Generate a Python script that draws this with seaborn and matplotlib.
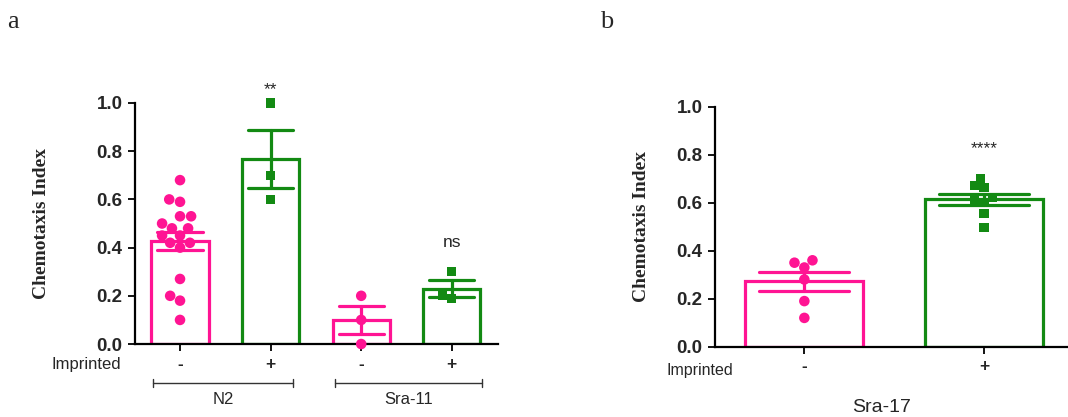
import numpy as np
import pandas as pd
import matplotlib
matplotlib.use("Agg")
import matplotlib.pyplot as plt
import matplotlib.transforms as mtransforms
import seaborn as sns

sns.set_theme(style="white")
plt.rcParams['font.family'] = ['Liberation Sans', 'DejaVu Sans']

PINK = '#ff1493'
GREEN = '#138a13'

# panel a values (chemotaxis index of each assay)
n2_minus = [0.68, 0.60, 0.59, 0.53, 0.53, 0.50, 0.48, 0.48, 0.45, 0.45,
            0.42, 0.42, 0.40, 0.27, 0.20, 0.18, 0.10]
n2_plus = [1.00, 0.70, 0.60]
sra11_minus = [0.20, 0.10, 0.00]
sra11_plus = [0.30, 0.20, 0.19]
groups_a = ['N2 -', 'N2 +', 'Sra-11 -', 'Sra-11 +']
ticks_a = ['-', '+', '-', '+']
sig_a = ['', '**', '', 'ns']

# panel b values
sra17_minus = [0.35, 0.36, 0.33, 0.28, 0.19, 0.12]
sra17_plus = [0.70, 0.665, 0.67, 0.62, 0.61, 0.60, 0.555, 0.495]
groups_b = ['Sra-17 -', 'Sra-17 +']
ticks_b = ['-', '+']
sig_b = ['', '****']


def make_df(groups, values):
    rows = []
    for g, vals in zip(groups, values):
        for v in vals:
            rows.append({'group': g, 'ci': v})
    return pd.DataFrame(rows)


def draw_panel(ax, df, groups, ticks, colors, markers, width):
    sns.barplot(data=df, x='group', y='ci', hue='group', order=groups,
                hue_order=groups, palette=colors, fill=False, width=width,
                linewidth=2.3, errorbar='se', capsize=0.5,
                err_kws={'linewidth': 2.3}, legend=False, ax=ax)
    for mk in ['o', 's']:
        sub_groups = [g for g, m in zip(groups, markers) if m == mk]
        sub = df[df['group'].isin(sub_groups)]
        sns.swarmplot(data=sub, x='group', y='ci', hue='group', order=groups,
                      hue_order=groups, palette=colors, marker=mk,
                      size=7.6 if mk == 'o' else 6.6, linewidth=0,
                      legend=False, ax=ax)
    for coll in ax.collections:
        coll.set_clip_on(False)
    ax.set_ylim(0, 1.0)
    yt = np.arange(0, 1.01, 0.2)
    ax.set_yticks(yt)
    ax.set_yticklabels([f'{t:.1f}' for t in yt], fontsize=13.5,
                       fontweight='bold')
    ax.set_xticks(range(len(groups)))
    ax.set_xticklabels(ticks, fontsize=12.5, fontweight='bold')
    ax.tick_params(axis='both', direction='out', length=5, width=1.3,
                   color='black', bottom=True, left=True, pad=4)
    sns.despine(ax=ax)
    for s in ['left', 'bottom']:
        ax.spines[s].set_linewidth(1.6)
        ax.spines[s].set_color('black')
    ax.set_xlabel('')
    ax.set_ylabel('Chemotaxis Index', fontsize=14, fontweight='bold',
                  family='Liberation Serif')


fig = plt.figure(figsize=(10.68, 4.17), dpi=100)
ax_a = fig.add_axes([0.1264, 0.175, 0.3399, 0.578])
ax_b = fig.add_axes([0.6695, 0.1686, 0.3305, 0.5755])

df_a = make_df(groups_a, [n2_minus, n2_plus, sra11_minus, sra11_plus])
draw_panel(ax_a, df_a, groups_a, ticks_a, [PINK, GREEN, PINK, GREEN],
           ['o', 's', 'o', 's'], 0.63)
ax_a.set_xlim(-0.497, 3.51)
ax_a.yaxis.set_label_coords(-0.234, 0.5)

df_b = make_df(groups_b, [sra17_minus, sra17_plus])
draw_panel(ax_b, df_b, groups_b, ticks_b, [PINK, GREEN], ['o', 's'], 0.655)
ax_b.set_xlim(-0.497, 1.467)
ax_b.yaxis.set_label_coords(-0.184, 0.5)

# significance marks (text positions above the bars)
for i, s in enumerate(sig_a):
    if s:
        ax_a.text(i, {1: 1.055, 3: 0.42}[i], s, ha='center', va='center',
                  fontsize=12.5, clip_on=False)
ax_b.text(1, 0.825, sig_b[1], ha='center', va='center', fontsize=12.5,
          clip_on=False)

# "Imprinted" row labels
ax_a.text(-0.135, -0.087, 'Imprinted', transform=ax_a.transAxes,
          ha='center', va='center', fontsize=12)
ax_b.text(-0.042, -0.10, 'Imprinted', transform=ax_b.transAxes,
          ha='center', va='center', fontsize=11.5)

# strain brackets for panel a
trans = mtransforms.blended_transform_factory(ax_a.transData, ax_a.transAxes)
for (x0, x1), name in [((-0.30, 1.25), 'N2'), ((1.71, 3.33), 'Sra-11')]:
    ax_a.plot([x0, x1], [-0.163, -0.163], color='#333333', lw=1,
              transform=trans, clip_on=False)
    for xx in (x0, x1):
        ax_a.plot([xx, xx], [-0.147, -0.179], color='#333333', lw=1,
                  transform=trans, clip_on=False)
    ax_a.text((x0 + x1) / 2, -0.232, name, transform=trans, ha='center',
              va='center', fontsize=12)

ax_b.text(0.473, -0.255, 'Sra-17', transform=ax_b.transAxes, ha='center',
          va='center', fontsize=14)

# panel letters
fig.text(0.012, 0.948, 'a', fontsize=19, family='Liberation Serif',
         ha='center', va='center')
fig.text(0.568, 0.948, 'b', fontsize=19, family='Liberation Serif',
         ha='center', va='center')

fig.savefig('out.png', dpi=100, facecolor='white')
